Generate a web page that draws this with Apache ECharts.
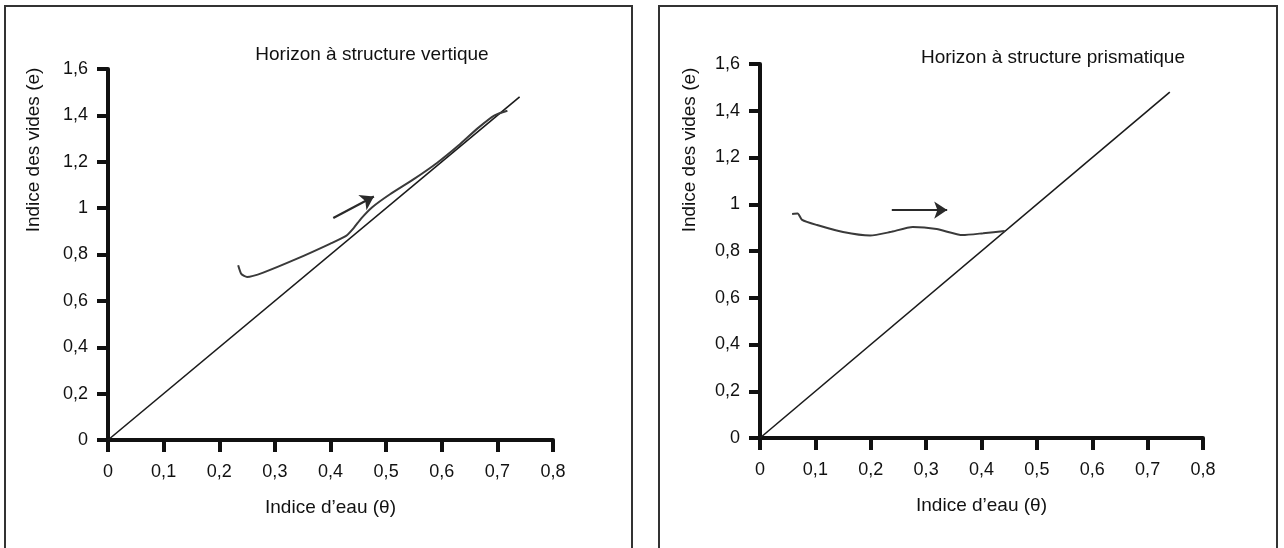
<!DOCTYPE html>
<html>
<head>
<meta charset="utf-8">
<script src="https://cdn.jsdelivr.net/npm/echarts@6/dist/echarts.min.js"></script>
<style>
  html, body { margin: 0; padding: 0; background: #fff; }
  #chart { width: 1284px; height: 548px; }
</style>
</head>
<body>
<div id="chart"></div>
<script>
// axis ticks
const xTicks = [0, 0.1, 0.2, 0.3, 0.4, 0.5, 0.6, 0.7, 0.8]
const yTicks = [0, 0.2, 0.4, 0.6, 0.8, 1, 1.2, 1.4, 1.6]

// saturation line e = 2θ (both panels)
const satLine = [[0, 0], [0.74, 1.48]]

// left panel : horizon à structure vertique
const vertCurve = [
  [0.234, 0.754], [0.240, 0.715], [0.250, 0.703], [0.279, 0.722], [0.340, 0.782],
  [0.399, 0.846], [0.428, 0.880], [0.442, 0.915], [0.455, 0.955], [0.475, 1.004],
  [0.507, 1.060], [0.549, 1.124], [0.592, 1.196], [0.630, 1.270], [0.665, 1.345],
  [0.695, 1.400], [0.718, 1.420]
]
const vertArrow = [[0.405, 0.957], [0.478, 1.05]]

// right panel : horizon à structure prismatique
const prisCurve = [
  [0.058, 0.958], [0.068, 0.960], [0.076, 0.933], [0.103, 0.911], [0.150, 0.881],
  [0.199, 0.866], [0.235, 0.881], [0.276, 0.903], [0.319, 0.894], [0.366, 0.868],
  [0.403, 0.876], [0.442, 0.886]
]
const prisArrow = [[0.238, 0.975], [0.338, 0.975]]

const titles = ['Horizon à structure vertique', 'Horizon à structure prismatique']
const xName = 'Indice d\u2019eau (\u03b8)'
const yName = 'Indice des vides (e)'

const font = '"Liberation Sans", Arial, sans-serif'
const fmt = v => String(+v.toFixed(1)).replace('.', ',')

const makeX = (i) => ({
  type: 'value', gridIndex: i, min: xTicks[0], max: xTicks[xTicks.length - 1], interval: 0.1,
  name: xName, nameLocation: 'middle', nameGap: 58,
  nameTextStyle: { fontFamily: font, fontSize: 19, color: '#111' },
  axisLine: { lineStyle: { color: '#111', width: 4 } },
  axisTick: { length: 12, lineStyle: { color: '#111', width: 4 } },
  axisLabel: { formatter: fmt, margin: 23, fontFamily: font, fontSize: 18, color: '#111' },
  splitLine: { show: false }
})
const makeY = (i) => ({
  type: 'value', gridIndex: i, min: yTicks[0], max: yTicks[yTicks.length - 1], interval: 0.2,
  axisLine: { show: true, lineStyle: { color: '#111', width: 4 } },
  axisTick: { show: true, length: 11, lineStyle: { color: '#111', width: 4 } },
  axisLabel: { formatter: fmt, margin: 20, fontFamily: font, fontSize: 18, color: '#111' },
  splitLine: { show: false }
})

const lineSeries = (i, data, color, width) => ({
  type: 'line', xAxisIndex: i, yAxisIndex: i, data: data,
  showSymbol: false, symbol: 'none', silent: true,
  lineStyle: { color: color, width: width }
})
const curveSeries = (i, data, arrow) => ({
  type: 'line', xAxisIndex: i, yAxisIndex: i, data: data, smooth: 0.2,
  showSymbol: false, symbol: 'none', silent: true,
  lineStyle: { color: '#3a3a3a', width: 2 },
  markLine: {
    silent: true, symbol: ['none', 'arrow'], symbolSize: 13,
    label: { show: false },
    lineStyle: { color: '#2a2a2a', width: 2.2, type: 'solid' },
    data: [[{ coord: arrow[0] }, { coord: arrow[1] }]]
  }
})

const chart = echarts.init(document.getElementById('chart'))
chart.setOption({
  animation: false,
  title: [
    { text: titles[0], left: 367, top: 40, textAlign: 'center',
      textStyle: { fontFamily: font, fontSize: 19, fontWeight: 'normal', color: '#111' } },
    { text: titles[1], left: 1048, top: 43, textAlign: 'center',
      textStyle: { fontFamily: font, fontSize: 19, fontWeight: 'normal', color: '#111' } }
  ],
  grid: [
    { left: 108, top: 69, width: 445, height: 371 },
    { left: 760, top: 64, width: 443, height: 374 }
  ],
  xAxis: [makeX(0), makeX(1)],
  yAxis: [makeY(0), makeY(1)],
  series: [
    lineSeries(0, satLine, '#1a1a1a', 1.6),
    curveSeries(0, vertCurve, vertArrow),
    lineSeries(1, satLine, '#1a1a1a', 1.6),
    curveSeries(1, prisCurve, prisArrow)
  ],
  graphic: [
    { type: 'rect', shape: { x: 5, y: 6, width: 627, height: 560 },
      style: { fill: 'none', stroke: '#333', lineWidth: 2 } },
    { type: 'rect', shape: { x: 659, y: 6, width: 618, height: 560 },
      style: { fill: 'none', stroke: '#333', lineWidth: 2 } },
    { type: 'text', x: 34, y: 150, rotation: Math.PI / 2,
      style: { text: yName, fontFamily: font, fontSize: 19, fill: '#111', align: 'center', verticalAlign: 'middle' } },
    { type: 'text', x: 690, y: 150, rotation: Math.PI / 2,
      style: { text: yName, fontFamily: font, fontSize: 19, fill: '#111', align: 'center', verticalAlign: 'middle' } }
  ]
})
</script>
</body>
</html>
